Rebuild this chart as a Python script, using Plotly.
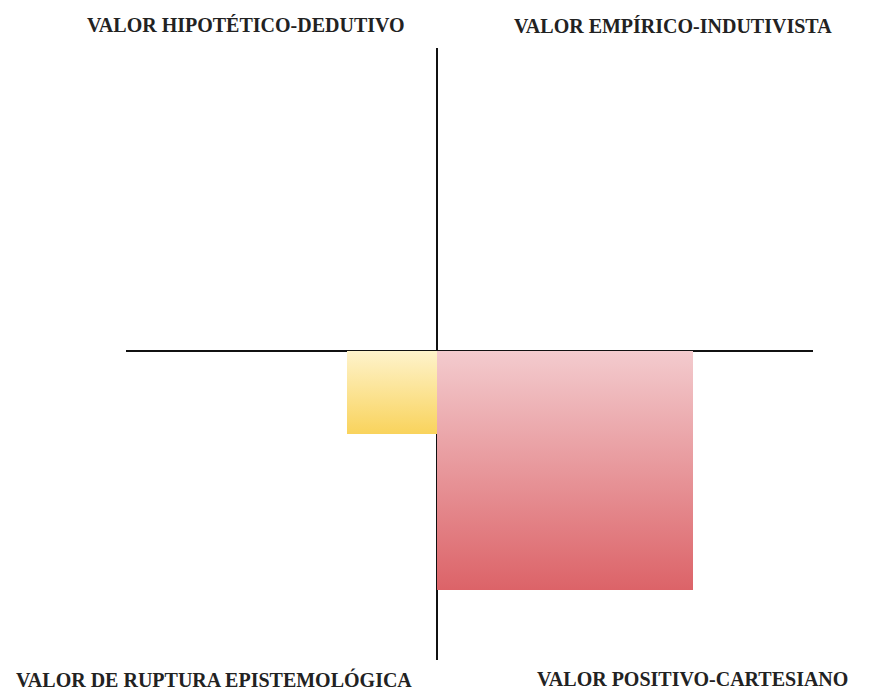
import plotly.graph_objects as go

# Quadrant labels
quadrant_labels = [
    "VALOR HIPOTÉTICO-DEDUTIVO",
    "VALOR EMPÍRICO-INDUTIVISTA",
    "VALOR DE RUPTURA EPISTEMOLÓGICA",
    "VALOR POSITIVO-CARTESIANO",
]

# Rectangles (x extent, y extent) in chart units
yellow_x = [-0.90, 0.0]
yellow_y = [-0.83, 0.0]
red_x = [0.0, 2.56]
red_y = [-2.39, 0.0]

yellow_colors = ["#F9D35C", "#FEF3CB"]  # bottom, top
red_colors = ["#DC6368", "#F3CBCE"]     # bottom, top

W, H = 877, 693

def rect_trace(xs, ys, cols):
    x0, x1 = xs
    y0, y1 = ys
    return go.Scatter(
        x=[x0, x1, x1, x0, x0],
        y=[y0, y0, y1, y1, y0],
        mode="lines",
        line=dict(width=0),
        fill="toself",
        fillgradient=dict(type="vertical",
                          colorscale=[[0, cols[0]], [1, cols[1]]]),
        hoverinfo="skip",
        showlegend=False,
    )

fig = go.Figure()
fig.add_trace(rect_trace(yellow_x, yellow_y, yellow_colors))
fig.add_trace(rect_trace(red_x, red_y, red_colors))

axis_common = dict(
    showgrid=False, showticklabels=False, ticks="", showline=False,
    zeroline=True, zerolinecolor="#111111", zerolinewidth=1.5,
    layer="above traces", fixedrange=True,
)

fig.update_layout(
    width=W, height=H,
    margin=dict(l=0, r=0, t=0, b=0),
    paper_bgcolor="white", plot_bgcolor="white",
    xaxis=dict(range=[-3.11, 3.76], domain=[126 / W, 813 / W], **axis_common),
    yaxis=dict(range=[-3.09, 3.03], domain=[33 / H, 645 / H], **axis_common),
)

label_pos = [(246, 25), (673, 26), (214, 679), (692, 679)]
for text, (px, py) in zip(quadrant_labels, label_pos):
    fig.add_annotation(
        text=f"<b>{text}</b>", x=px / W, y=1 - py / H,
        xref="paper", yref="paper", showarrow=False,
        xanchor="center", yanchor="middle",
        font=dict(family="Liberation Serif", size=20, color="#222222"),
    )

fig.write_html(
    "out.html",
    config={"displayModeBar": False},
    post_script="document.body.style.margin='0';document.body.style.overflow='hidden';",
)
